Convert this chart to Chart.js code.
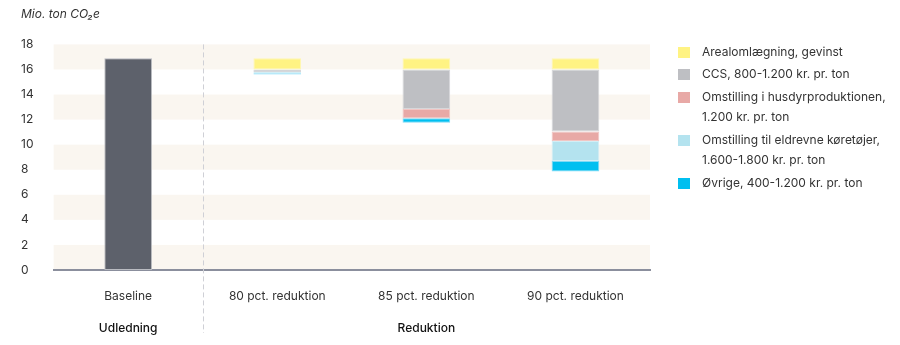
<!DOCTYPE html>
<html lang="da">
<head>
<meta charset="utf-8">
<title>Reduktion af CO2e</title>
<script src="https://cdn.jsdelivr.net/npm/chart.js@4.4.1/dist/chart.umd.min.js"></script>
<style>
  html, body { margin: 0; padding: 0; background: #fff; }
  #wrap { position: relative; width: 900px; height: 345px; }
  #legend {
    position: absolute; left: 678px; top: 41.5px; margin: 0; padding: 0; list-style: none;
    font-family: Inter, "Noto Sans", sans-serif; font-size: 12px; line-height: 20.5px; color: #333;
  }
  #legend li { display: flex; align-items: flex-start; margin-bottom: 2px; white-space: nowrap; }
  #legend .box { flex: 0 0 auto; width: 12px; height: 11px; margin: 5px 12px 0 0; }
</style>
</head>
<body>
<div id="wrap">
  <canvas id="reduktion-chart" width="900" height="345"></canvas>
  <ul id="legend"></ul>
</div>
<script>
// categories and group labels under the axis
const categories = ["Baseline", "80 pct. reduktion", "85 pct. reduktion", "90 pct. reduktion"];
const groupLabels = ["Udledning", "", "Reduktion", ""];

// values in mio. ton CO2e, floating bars are [low, high]
const baseline = [16.9, null, null, null];
const arealomlaegning = [null, [16.0, 16.9], [16.0, 16.9], [16.0, 16.9]];
const ccs = [null, [15.8, 16.0], [12.85, 16.0], [11.05, 16.0]];
const husdyr = [null, null, [12.1, 12.85], [10.3, 11.05]];
const elbiler = [null, [15.7, 15.8], null, [8.7, 10.3]];
const oevrige = [null, [15.6, 15.7], [11.75, 12.1], [7.85, 8.7]];

const legendLabels = [
  ["Arealomlægning, gevinst"],
  ["CCS, 800-1.200 kr. pr. ton"],
  ["Omstilling i husdyrproduktionen,", "1.200 kr. pr. ton"],
  ["Omstilling til eldrevne køretøjer,", "1.600-1.800 kr. pr. ton"],
  ["Øvrige, 400-1.200 kr. pr. ton"]
];

const FONT = "Inter, 'Noto Sans', sans-serif";

// light bands every other 2 units
const bandsPlugin = {
  id: "bands",
  beforeDraw(chart) {
    const { ctx, chartArea, scales } = chart;
    const y = scales.y;
    ctx.save();
    ctx.fillStyle = "#faf6f0";
    y.ticks.forEach((t, i) => {
      if (i % 2 === 0 && i < y.ticks.length - 1) {
        const top = y.getPixelForValue(y.ticks[i + 1].value);
        const bottom = y.getPixelForValue(t.value);
        ctx.fillRect(chartArea.left, top, chartArea.right - chartArea.left, bottom - top);
      }
    });
    ctx.restore();
  }
};

// dashed line between Udledning and Reduktion
const dividerPlugin = {
  id: "divider",
  afterDraw(chart) {
    const { ctx, chartArea, scales } = chart;
    const x = Math.round(scales.x.getPixelForValue(0.5)) + 0.5;
    ctx.save();
    ctx.strokeStyle = "#cfd0d6";
    ctx.lineWidth = 1;
    ctx.setLineDash([5, 3]);
    ctx.beginPath();
    ctx.moveTo(x, chartArea.top);
    ctx.lineTo(x, chart.height - 12);
    ctx.stroke();
    ctx.restore();
  }
};

const mkSet = (label, data, color, border) => ({
  label: label,
  data: data,
  backgroundColor: color,
  borderColor: border,
  borderWidth: 1,
  borderSkipped: false,
  grouped: false,
  barPercentage: 0.32,
  categoryPercentage: 1
});

let ctx = document.getElementById("reduktion-chart").getContext("2d");
let myChart = new Chart(ctx, {
  type: "bar",
  data: {
    labels: categories,
    datasets: [
      mkSet("Baseline", baseline, "#5d616b", "#b9bbc1"),
      mkSet(legendLabels[0], arealomlaegning, "#fff383", "#fff7b0"),
      mkSet(legendLabels[1], ccs, "#bebfc3", "#d6d7da"),
      mkSet(legendLabels[2], husdyr, "#e8a9a6", "#f1c6c4"),
      mkSet(legendLabels[3], elbiler, "#b4e3ef", "#d2eef5"),
      mkSet(legendLabels[4], oevrige, "#00bff0", "#7fd9f5")
    ]
  },
  options: {
    responsive: false,
    animation: false,
    devicePixelRatio: 1,
    layout: {
      autoPadding: false,
      padding: { left: 21, right: 250, top: 0, bottom: 10 }
    },
    scales: {
      x: {
        grid: { display: false, drawTicks: false },
        border: { display: true, color: "#8b8f9d", width: 2 },
        ticks: { color: "#333", font: { family: FONT, size: 12, lineHeight: "14px" }, padding: 19 }
      },
      x2: {
        type: "category",
        labels: groupLabels,
        position: "bottom",
        offset: true,
        weight: 1,
        grid: { display: false, drawTicks: false },
        border: { display: false },
        ticks: { color: "#111", font: { family: FONT, size: 12, weight: "500", lineHeight: "13px" }, padding: 0 }
      },
      y: {
        min: 0,
        max: 18,
        grid: { display: false, drawTicks: false },
        border: { display: false },
        ticks: {
          stepSize: 2,
          crossAlign: "far",
          padding: 10,
          color: "#333",
          font: { family: FONT, size: 12 }
        }
      }
    },
    plugins: {
      title: {
        display: true,
        text: "Mio. ton CO₂e",
        align: "start",
        color: "#333",
        font: { family: FONT, size: 12, style: "italic", weight: "normal" },
        padding: { top: 7, bottom: 23 }
      },
      legend: { display: false },
      tooltip: { enabled: true }
    }
  },
  plugins: [bandsPlugin, dividerPlugin]
});

// legend as html list, built from the datasets (baseline left out)
const legendEl = document.getElementById("legend");
myChart.data.datasets.slice(1).forEach((ds) => {
  const li = document.createElement("li");
  const box = document.createElement("span");
  box.className = "box";
  box.style.background = ds.backgroundColor;
  const txt = document.createElement("span");
  ds.label.forEach((line, i) => {
    if (i > 0) txt.appendChild(document.createElement("br"));
    txt.appendChild(document.createTextNode(line));
  });
  li.appendChild(box);
  li.appendChild(txt);
  legendEl.appendChild(li);
});
</script>
</body>
</html>
